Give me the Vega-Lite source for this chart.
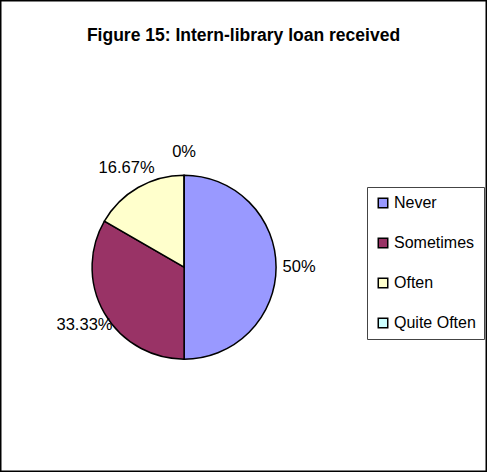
{
  "$schema": "https://vega.github.io/schema/vega-lite/v6.json",
  "width": 487,
  "height": 472,
  "autosize": {"type": "fit", "contains": "padding"},
  "padding": 0,
  "background": "white",
  "view": {"stroke": "#000000", "strokeWidth": 3},
  "title": {
    "text": "Figure 15: Intern-library loan received",
    "font": "Liberation Sans",
    "fontSize": 17.5,
    "fontWeight": "bold",
    "color": "#000000",
    "anchor": "middle",
    "frame": "group",
    "offset": -44
  },
  "data": {
    "values": [
      {"category": "Never", "value": 50, "label": "50%", "order": 1},
      {"category": "Sometimes", "value": 33.33, "label": "33.33%", "order": 2},
      {"category": "Often", "value": 16.67, "label": "16.67%", "order": 3},
      {"category": "Quite Often", "value": 0, "label": "0%", "order": 4}
    ]
  },
  "encoding": {
    "theta": {"field": "value", "type": "quantitative", "stack": true},
    "order": {"field": "order", "type": "quantitative"},
    "color": {
      "field": "category",
      "type": "nominal",
      "sort": ["Never", "Sometimes", "Often", "Quite Often"],
      "scale": {
        "domain": ["Never", "Sometimes", "Often", "Quite Often"],
        "range": ["#9999FF", "#993366", "#FFFFCC", "#CCFFFF"]
      },
      "legend": {
        "title": null,
        "orient": "none",
        "legendX": 367,
        "legendY": 187,
        "symbolType": "square",
        "symbolSize": 90,
        "symbolStrokeColor": "#000000",
        "symbolStrokeWidth": 1.5,
        "symbolOpacity": 1,
        "labelFont": "Liberation Sans",
        "labelFontSize": 16,
        "labelColor": "#000000",
        "labelOffset": 3,
        "rowPadding": 24,
        "strokeColor": "#444444",
        "padding": 8
      }
    }
  },
  "layer": [
    {
      "mark": {
        "type": "arc",
        "outerRadius": 92,
        "stroke": "#000000",
        "strokeWidth": 1.5,
        "x": {"expr": "width*0.378"},
        "y": {"expr": "height*0.566"}
      }
    },
    {
      "mark": {
        "type": "text",
        "radius": 115,
        "font": "Liberation Sans",
        "fontSize": 16.5,
        "color": "#000000",
        "x": {"expr": "width*0.378"},
        "y": {"expr": "height*0.566"}
      },
      "encoding": {
        "text": {"field": "label"},
        "color": {"value": "#000000"}
      }
    }
  ]
}
